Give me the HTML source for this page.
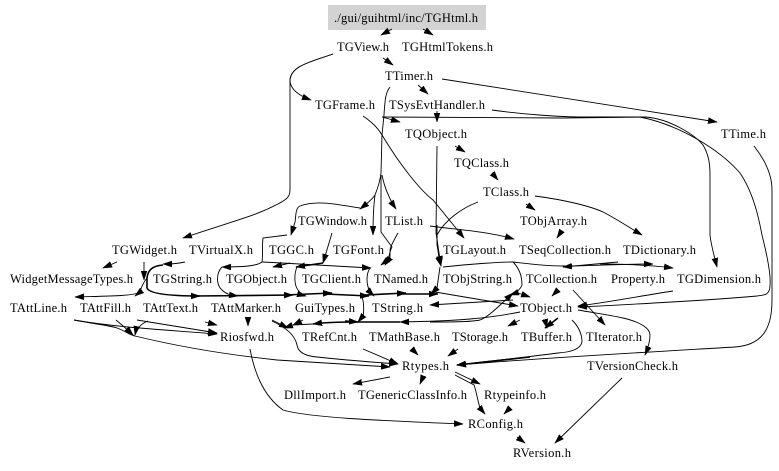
<!DOCTYPE html>
<html>
<head>
<meta charset="utf-8">
<style>
html,body{margin:0;padding:0;background:#fff}
svg{display:block}
text{font-family:"Liberation Serif",serif;font-size:12.5px;fill:#000}
path{fill:none;stroke:#000;stroke-width:.9}
.t{stroke-width:1.6}
#a path{fill:#000;stroke:#000;stroke-width:.5}
</style>
</head>
<body>
<svg width="779" height="471" viewBox="0 0 779 471" xmlns="http://www.w3.org/2000/svg">
<defs>
<marker id="a" markerUnits="userSpaceOnUse" markerWidth="12" markerHeight="8" refX="9" refY="4" orient="auto"><path d="M0,1 L9,4 L0,7 Z"/></marker>
</defs>
<rect x="328" y="5" width="158" height="25" fill="#d3d3d3"/>
<g>
<text x="334" y="22" textLength="144">./gui/guihtml/inc/TGHtml.h</text>
<text x="337" y="51" textLength="52">TGView.h</text>
<text x="402" y="51" textLength="91">TGHtmlTokens.h</text>
<text x="385" y="80" textLength="48">TTimer.h</text>
<text x="315" y="109" textLength="60">TGFrame.h</text>
<text x="389" y="109" textLength="96">TSysEvtHandler.h</text>
<text x="405" y="138" textLength="62">TQObject.h</text>
<text x="721" y="138" textLength="45">TTime.h</text>
<text x="454" y="167" textLength="55">TQClass.h</text>
<text x="483" y="196" textLength="46">TClass.h</text>
<text x="520" y="225" textLength="67">TObjArray.h</text>
<text x="298" y="225" textLength="69">TGWindow.h</text>
<text x="385" y="225" textLength="38">TList.h</text>
<text x="112" y="254" textLength="65">TGWidget.h</text>
<text x="189" y="254" textLength="64">TVirtualX.h</text>
<text x="269" y="254" textLength="45">TGGC.h</text>
<text x="333" y="254" textLength="51">TGFont.h</text>
<text x="443" y="254" textLength="63">TGLayout.h</text>
<text x="519" y="254" textLength="92">TSeqCollection.h</text>
<text x="623" y="254" textLength="73">TDictionary.h</text>
<text x="10" y="283" textLength="123">WidgetMessageTypes.h</text>
<text x="153" y="283" textLength="59">TGString.h</text>
<text x="226" y="283" textLength="61">TGObject.h</text>
<text x="302" y="283" textLength="59">TGClient.h</text>
<text x="374" y="283" textLength="54">TNamed.h</text>
<text x="443" y="283" textLength="69">TObjString.h</text>
<text x="526" y="283" textLength="71">TCollection.h</text>
<text x="611" y="283" textLength="54">Property.h</text>
<text x="677" y="283" textLength="84">TGDimension.h</text>
<text x="10" y="312" textLength="57">TAttLine.h</text>
<text x="80" y="312" textLength="51">TAttFill.h</text>
<text x="143" y="312" textLength="55">TAttText.h</text>
<text x="211" y="312" textLength="70">TAttMarker.h</text>
<text x="295" y="312" textLength="60">GuiTypes.h</text>
<text x="372" y="312" textLength="51">TString.h</text>
<text x="520" y="312" textLength="52">TObject.h</text>
<text x="220" y="341" textLength="54">Riosfwd.h</text>
<text x="302" y="341" textLength="55">TRefCnt.h</text>
<text x="369" y="341" textLength="71">TMathBase.h</text>
<text x="452" y="341" textLength="56">TStorage.h</text>
<text x="521" y="341" textLength="51">TBuffer.h</text>
<text x="586" y="341" textLength="56">TIterator.h</text>
<text x="402" y="370" textLength="47">Rtypes.h</text>
<text x="587" y="370" textLength="91">TVersionCheck.h</text>
<text x="284" y="399" textLength="62">DllImport.h</text>
<text x="358" y="399" textLength="109">TGenericClassInfo.h</text>
<text x="484" y="399" textLength="62">Rtypeinfo.h</text>
<text x="468" y="428" textLength="55">RConfig.h</text>
<text x="513" y="457" textLength="58">RVersion.h</text>
</g>
<g marker-end="url(#a)">
<path d="M392,29 L381,35"/>
<path d="M423,29 L433,35"/>
<path d="M383,58 L393,65"/>
<path d="M333,54 C310,62 291,66 290,80 C290,90 300,96 311,100"/>
<path d="M333,54 C310,62 291,66 290,80 L290,190 C290,198 285,200 278,204 C255,216 240,219 183,238"/>
<path d="M418,85 L428,94"/>
<path d="M442,79 L717,122"/>
<path d="M437,111 L437,122"/>
<path d="M382,117 L400,122"/>
<path d="M382,117 L562,118 L646,117 C670,119 695,135 703,145 C709,155 710,165 710,175 L710,235 C711,245 714,255 717,267"/>
<path d="M492,110 C520,114 560,117 583,117 L640,117 C680,125 720,150 740,173 C755,195 760,225 762,235 C767,255 771,275 770,285 C770,295 765,295 757,296 C700,301 640,304 578,307"/>
<path d="M754,146 C765,160 772,175 772,190 L772,300 C772,325 765,345 735,347 C650,352 540,358 457,365"/>
<path d="M363,116 C372,122 378,128 382,135 C400,165 420,190 433,200 L464,238"/>
<path d="M390,87 C386,92 385,98 384,115 L382,135 L381,173 C380,182 377,190 375,195 C372,200 365,205 360,209"/>
<path d="M360,208 C335,204 316,200 300,206 C295,208 296,218 295,222 L291,235"/>
<path d="M382,175 C385,190 390,200 396,209"/>
<path d="M375,195 C373,210 373,222 373,235"/>
<path d="M381,175 L381,232 L392,247 C389,252 390,258 385,265"/>
<path d="M398,233 C394,240 391,245 390,250 L390,258 L381,265"/>
<path d="M455,146 L465,152"/>
<path d="M492,173 L498,180"/>
<path d="M526,204 L535,210"/>
<path d="M535,196 C565,200 590,206 603,212 C615,218 630,228 642,235"/>
<path d="M478,202 C462,208 445,220 437,235 C437,245 438,255 441,266"/>
<path d="M437,146 L436,233 L441,266"/>
<path d="M430,226 C460,230 485,231 514,239"/>
<path d="M561,232 L557,238"/>
<path d="M618,262 L563,267"/>
<path d="M443,267 C470,264 500,262 513,262 C530,264 545,266 563,266 C590,266 620,264 653,264"/>
<path d="M600,264 C625,264 650,265 673,268"/>
<path d="M117,262 L103,268"/>
<path d="M185,262 C175,264 170,264 163,264"/>
<path d="M144,262 L144,280"/>
<path d="M147,278 C143,283 141,288 140,292 L135,296"/>
<path d="M138,293 C130,296 110,296 75,297"/>
<path class="t" d="M163,265 C152,266 148,270 147,278 L147,288 C149,293 165,296 200,296"/>
<path class="t" d="M195,296 L293,295"/>
<path class="t" d="M285,295 L332,293"/>
<path class="t" d="M325,294 L369,296"/>
<path class="t" d="M365,295 L406,293"/>
<path class="t" d="M400,294 L438,294"/>
<path d="M435,292 L518,306"/>
<path d="M513,300 L430,305"/>
<path d="M287,235 L263,238 C262,245 263,255 262,262 C258,265 250,267 222,267"/>
<path d="M222,267 C216,273 216,285 222,290 C226,294 230,295 238,296"/>
<path d="M290,263 L273,267"/>
<path d="M262,262 C285,263 300,264 371,268"/>
<path d="M332,233 L323,263"/>
<path class="t" d="M323,263 L296,267"/>
<path d="M297,267 C294,274 294,285 298,290 C300,293 302,295 306,296"/>
<path d="M370,268 C366,274 366,284 370,292 L374,296"/>
<path d="M362,297 C364,302 364,312 363,316 L358,322"/>
<path d="M437,225 L437,245 L441,265"/>
<path d="M440,267 L437,288 L431,294"/>
<path d="M513,262 C519,268 522,275 522,285 C520,290 516,293 510,295"/>
<path d="M430,322 C450,322 470,322 480,320 C488,317 497,308 513,293"/>
<path d="M515,292 L530,297"/>
<path d="M558,290 L552,296"/>
<path d="M673,291 C640,296 610,302 578,306"/>
<path d="M573,290 L605,325"/>
<path d="M520,312 C490,318 460,321 400,322"/>
<path class="t" d="M400,322 L358,322 C330,322 320,323 313,324"/>
<path class="t" d="M345,321 L358,322"/>
<path d="M313,324 L293,325 L284,328"/>
<path d="M303,320 L293,325"/>
<path d="M74,320 C120,328 170,330 217,334"/>
<path d="M74,320 C95,324 112,326 117,328 C125,331 130,335 135,336 C180,347 230,355 277,360 C320,363 360,365 390,367"/>
<path d="M116,320 C122,325 128,330 133,335"/>
<path d="M137,320 L217,333"/>
<path d="M148,321 C140,324 136,330 135,335"/>
<path d="M205,322 L217,325"/>
<path d="M248,320 L248,326"/>
<path d="M272,320 L288,328"/>
<path d="M272,321 C285,327 295,335 297,345 C298,352 305,356 317,357 C345,360 370,362 398,364"/>
<path d="M363,349 L398,364"/>
<path d="M412,349 L418,355"/>
<path d="M458,349 L448,356"/>
<path d="M520,320 L508,326"/>
<path class="t" d="M558,318 L545,328"/>
<path class="t" d="M545,320 L547,328"/>
<path d="M578,310 C595,313 610,315 623,318 C640,322 650,328 650,335 C650,342 648,348 645,355"/>
<path d="M572,320 C580,328 582,335 582,342 C580,350 570,352 558,353 C520,358 490,361 457,365"/>
<path class="t" d="M530,357 L457,365"/>
<path d="M622,378 L555,443"/>
<path d="M390,377 L353,384"/>
<path d="M423,377 L420,384"/>
<path d="M455,372 L480,384"/>
<path d="M455,375 L474,385 C476,390 478,402 480,408 L485,414"/>
<path d="M510,408 L504,414"/>
<path d="M517,437 L525,443"/>
<path d="M250,349 C254,370 262,395 283,410 C310,418 390,421 463,424"/>
</g>
</svg>
</body>
</html>
